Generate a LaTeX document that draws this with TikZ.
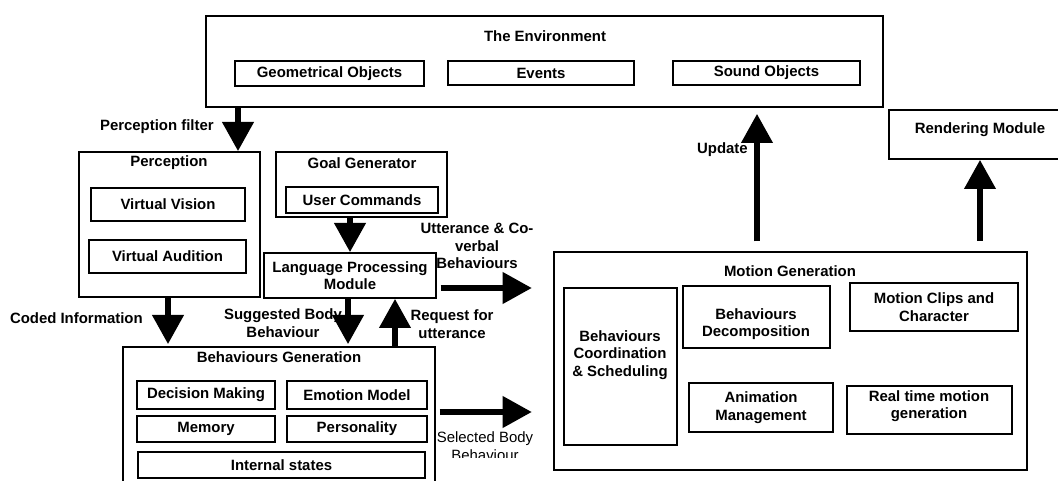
\documentclass[tikz,border=0pt]{standalone}
\usepackage{fontspec}
\setmainfont{Liberation Sans}
\usetikzlibrary{arrows.meta,fit}

\newcommand{\txtsize}{\fontsize{11.2}{13.2}\selectfont}

\tikzset{
  heading/.style={inner sep=0pt, align=center, font=\bfseries\txtsize},
  plaintxt/.style={inner sep=0pt, align=center, font=\txtsize},
  box/.style={draw, line width=1pt, inner sep=0pt},
  boxtext/.style={label={[heading]center:#1}},
  fat/.style={line width=5.2pt, -{Triangle[length=22pt,width=22.5pt]}}
}

\begin{document}
\begin{tikzpicture}[x=0.75pt, y=-0.75pt]
\useasboundingbox (0,0) rectangle (1058,481);
\clip (0,0) rectangle (1058,481);

% environment and rendering
\node[box, fit={(206,16) (883,107)}] (env) {};
\node[heading] (envtitle) at (545,36) {The Environment};
\node[box, fit={(235,61) (424,86)}, boxtext={Geometrical Objects}] (geom) {};
\node[box, fit={(448,61) (634,85)}, boxtext={Events}] (events) {};
\node[box, fit={(673,61) (860,85)}, boxtext={Sound Objects}] (sound) {};
\node[box, fit={(889,110) (1071,159)}] (render) {};
\node[heading] (rendertxt) at (980,130) {Rendering Module};

% perception and goals
\node[box, fit={(79,152) (260,297)}] (percep) {};
\node[heading] (perceptitle) at (169,163) {Perception};
\node[box, fit={(91,188) (245,221)}, boxtext={Virtual Vision}] (vision) {};
\node[box, fit={(89,240) (246,273)}, boxtext={Virtual Audition}] (audition) {};
\node[box, fit={(276,152) (447,217)}] (goal) {};
\node[heading] (goaltitle) at (362,163) {Goal Generator};
\node[box, fit={(286,187) (438,213)}, boxtext={User Commands}] (user) {};
\node[box, fit={(264,253) (436,298)}, boxtext={Language Processing\\Module}] (lpm) {};

% behaviours generation
\node[box, fit={(123,347) (435,500)}] (bg) {};
\node[heading] (bgtitle) at (279,357) {Behaviours Generation};
\node[box, fit={(137,381) (275,409)}, boxtext={Decision Making}] (decision) {};
\node[box, fit={(287,381) (427,409)}, boxtext={Emotion Model}] (emotion) {};
\node[box, fit={(137,416) (275,442)}, boxtext={Memory}] (memory) {};
\node[box, fit={(287,416) (427,442)}, boxtext={Personality}] (person) {};
\node[box, fit={(138,452) (425,478)}, boxtext={Internal states}] (internal) {};

% motion generation
\node[box, fit={(554,252) (1027,470)}] (motion) {};
\node[heading] (motiontitle) at (790,271) {Motion Generation};
\node[box, fit={(564,288) (677,445)}] (coord) {};
\node[heading] (coordtxt) at (620,355) {Behaviours\\Coordination\\\& Scheduling};
\node[box, fit={(683,286) (830,348)}] (decomp) {};
\node[heading] (decomptxt) at (756,324) {Behaviours\\Decomposition};
\node[box, fit={(850,283) (1018,331)}, boxtext={Motion Clips and\\Character}] (clips) {};
\node[box, fit={(689,383) (833,432)}, boxtext={Animation\\Management}] (anim) {};
\node[box, fit={(847,386) (1012,434)}] (realtime) {};
\node[heading] (realtxt) at (929,406) {Real time motion\\generation};

% arrow lines
\coordinate (pfx) at (238,0);
\coordinate (upx) at (757,0);
\coordinate (rmx) at (980,0);
\coordinate (ggx) at (350,0);
\coordinate (cix) at (168,0);
\coordinate (sbx) at (348,0);
\coordinate (rqx) at (395,0);
\coordinate (uty) at (0,288);
\coordinate (sly) at (0,412);

\draw[fat] (env.south -| pfx) -- (percep.north -| pfx);
\draw[fat, shorten <=7.5pt, shorten >=4.5pt] (motion.north -| upx) -- (env.south -| upx);
\draw[fat, shorten <=8pt] (motion.north -| rmx) -- (render.south -| rmx);
\draw[fat] (goal.south -| ggx) -- (lpm.north -| ggx);
\draw[fat, shorten <=3pt, shorten >=16pt] (lpm.east |- uty) -- (motion.west |- uty);
\draw[fat, shorten >=1.5pt] (percep.south -| cix) -- (bg.north -| cix);
\draw[fat, shorten >=1.5pt] (lpm.south -| sbx) -- (bg.north -| sbx);
\draw[fat] (bg.north -| rqx) -- (lpm.south -| rqx);
\draw[fat, shorten <=3pt, shorten >=16pt] (bg.east |- sly) -- (motion.west |- sly);

% arrow texts
\node[heading, anchor=east] (pflabel) at (214,127) {Perception filter};
\node[heading, anchor=east] (uplabel) at (748,150) {Update};
\node[heading] (utlabel) at (477,246) {Utterance \& Co-\\verbal\\Behaviours};
\node[heading, anchor=east] (cilabel) at (143,318) {Coded Information};
\node[heading] (sblabel) at (283,323) {Suggested Body\\Behaviour};
\node[heading] (rqlabel) at (452,324) {Request for\\utterance};
\begin{scope}
\clip (425,425) rectangle (545,457);
\node[plaintxt] (sllabel) at (485,446) {Selected Body\\Behaviour};
\end{scope}
\end{tikzpicture}
\end{document}
